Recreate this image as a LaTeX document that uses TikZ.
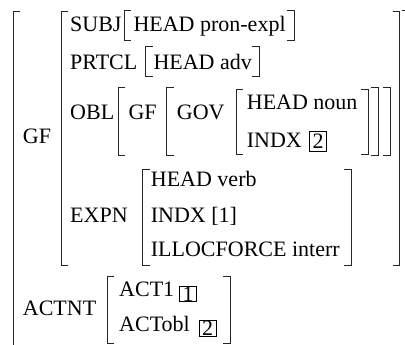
\documentclass[tikz,border=0pt]{standalone}
\usepackage{fontspec}
\setmainfont{Liberation Serif}
\newfontfamily\avmfont{Liberation Serif}
\tikzset{
  brk/.style={line width=0.7pt, color=black!85},
  lbl/.style={font=\avmfont\fontsize{22}{26}\selectfont, inner sep=0pt, anchor=base west},
  tag/.style={draw, line width=0.7pt, font=\avmfont\fontsize{22}{26}\selectfont, inner sep=0pt,
    minimum width=16.5pt, minimum height=17pt}
}
% opening and closing brackets: x, top y, bottom y
\newcommand{\avmopen}[3]{\draw[brk] (#1+7,#2) -- (#1,#2) -- (#1,#3) -- (#1+7,#3);}
\newcommand{\avmclose}[3]{\draw[brk] (#1-7,#2) -- (#1,#2) -- (#1,#3) -- (#1-7,#3);}
\begin{document}
\begin{tikzpicture}[x=1pt,y=-1pt]
\useasboundingbox (0,0) rectangle (405,345);
\clip (0,0) rectangle (405,345);
% outer matrix
\avmopen{13.3}{11}{360}
\draw[brk] (402,10) -- (409,10) -- (409,360);
\node[lbl] (gf) at (22.7,143) {GF};
\avmopen{61}{11}{265}
\avmclose{399.5}{11}{265}
% SUBJ
\node[lbl] (subj) at (70,31.7) {SUBJ};
\avmopen{124}{10}{40}
\node[lbl] (subjhead) at (133.3,31.7) {HEAD pron-expl};
\avmclose{294.3}{10}{40}
% PRTCL
\node[lbl] (prtcl) at (70,69.3) {PRTCL};
\avmopen{145.7}{46.7}{76.7}
\node[lbl] (prtclhead) at (153.3,69.3) {HEAD adv};
\avmclose{259}{46.7}{76.7}
% OBL
\node[lbl] (obl) at (70,120) {OBL};
\avmopen{118.3}{87.7}{155.7}
\node[lbl] (oblgf) at (128.3,120) {GF};
\avmopen{166.7}{87.7}{155.7}
\node[lbl] (gov) at (176.7,120) {GOV};
\avmopen{236}{89}{154}
\node[lbl] (govhead) at (246.7,110) {HEAD noun};
\node[lbl] (govindx) at (246.7,147.7) {INDX};
\node[tag, minimum height=20pt] (tagtwoa) at (318,141.7) {2};
\avmclose{368.3}{89}{154}
\avmclose{378.3}{87.7}{155.7}
\avmclose{390}{87.7}{155.7}
% EXPN
\node[lbl] (expn) at (70,222.7) {EXPN};
\avmopen{142.7}{169.3}{265}
\node[lbl] (expnhead) at (150.7,186.7) {HEAD verb};
\node[lbl] (expnindx) at (150.7,222.7) {INDX [1]};
\node[lbl] (illoc) at (150.7,256.7) {ILLOCFORCE interr};
\avmclose{351}{169.3}{265}
% ACTNT
\node[lbl] (actnt) at (22.7,315) {ACTNT};
\avmopen{107.3}{276}{343.3}
\node[lbl] (actone) at (119,296.7) {ACT1};
\node[tag, minimum height=15.7pt] (tagone) at (188,293.8) {1};
\node[lbl] (actobl) at (119,331.7) {ACTobl};
\node[tag, minimum height=16.7pt] (tagtwob) at (207.7,328.3) {2};
\avmclose{230}{276}{343.3}
\end{tikzpicture}
\end{document}
